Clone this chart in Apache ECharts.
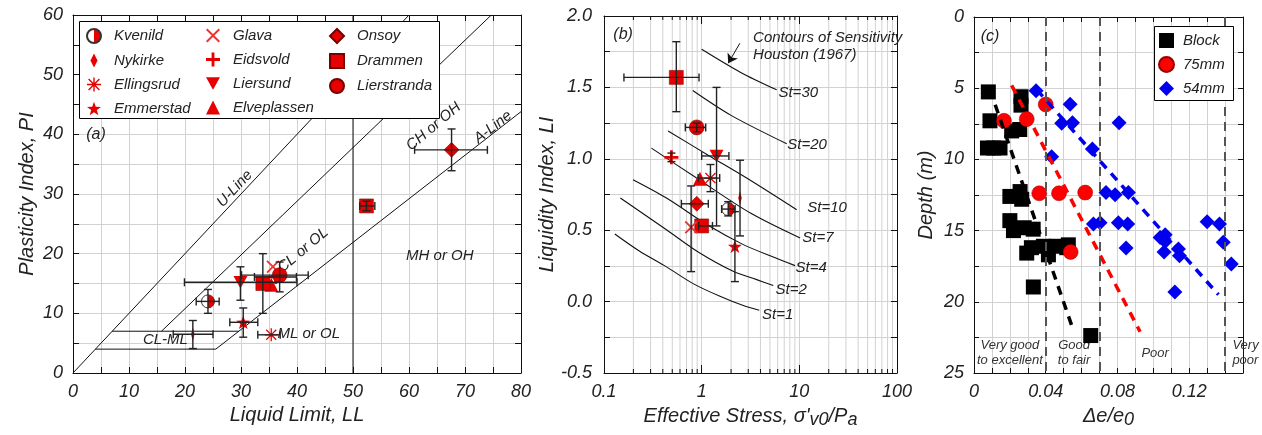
<!DOCTYPE html>
<html><head><meta charset="utf-8">
<script src="https://cdn.jsdelivr.net/npm/echarts@6/dist/echarts.min.js"></script>
<style>html,body{margin:0;padding:0;background:#fff}#c{width:1262px;height:435px}</style>
</head><body><div id="c"></div>
<script>
// ================= DATA =================
// Panel (a): [site, LL, PI, LLmin, LLmax, PImin, PImax]
const plasticityPoints = [
  ['Kvenild', 24.1, 12.0, 22.0, 26.1, 10.0, 14.0],
  ['Nykirke', 21.4, 6.5, 17.9, 25.0, 4.1, 8.8],
  ['Ellingsrud', 35.4, 6.4, 33.0, 37.0, null, null],
  ['Emmerstad', 30.4, 8.5, 28.0, 33.0, 6.0, 10.9],
  ['Glava', 35.7, 17.8, null, null, null, null],
  ['Eidsvold', 36.2, 16.1, 32.4, 39.9, null, null],
  ['Liersund', 29.9, 15.2, 19.9, 40.0, 12.2, 17.8],
  ['Elveplassen', 35.4, 14.8, null, null, null, null],
  ['Onsoy', 67.6, 37.4, 61.0, 74.0, 33.9, 40.9],
  ['Drammen', 33.9, 15.0, null, null, 10.0, 20.0],
  ['Drammen', 52.4, 28.0, 51.2, 53.9, 27.2, 28.8],
  ['Lierstranda', 36.9, 16.4, 30.1, 42.0, 13.6, 18.6]
];
// Plasticity chart reference lines [LL, PI]
const lineLeft = [[0, 0], [60, 60]];
const uLine = [[15.8, 7], [74.7, 60]];
const aLine = [[25.5, 4], [80, 43.8]];
const clmlTop = [[7, 7], [29.6, 7]];
const clmlBottom = [[4, 4], [25.5, 4]];
const llFifty = [[50, 0], [50, 60]];

// Panel (b): [site, stress, LI, stressMin, stressMax, LImin, LImax]
const liquidityPoints = [
  ['Drammen', 0.55, 1.57, 0.16, 0.94, 1.33, 1.82],
  ['Lierstranda', 0.89, 1.22, 0.68, 1.10, 1.19, 1.25],
  ['Eidsvold', 0.49, 1.01, null, null, 0.98, 1.04],
  ['Liersund', 1.42, 1.02, 1.00, 1.90, 0.53, 1.50],
  ['Elveplassen', 0.96, 0.86, null, null, null, null],
  ['Ellingsrud', 1.23, 0.865, 0.92, 1.53, 0.77, 0.96],
  ['Onsoy', 0.89, 0.685, 0.62, 1.17, null, null],
  ['Kvenild', 1.87, 0.648, 1.60, 2.20, 0.60, 0.70],
  ['Nykirke', 2.47, 0.725, null, null, 0.46, 0.99],
  ['Drammen', 1.0, 0.53, 0.93, 1.29, null, null],
  ['Glava', 0.78, 0.52, null, null, 0.21, 0.81],
  ['Emmerstad', 2.19, 0.387, null, null, 0.14, 0.63]
];
// Houston (1967) sensitivity contours [stress, LI]
const contourSt1 = [[0.129, 0.473], [0.232, 0.352], [0.436, 0.243], [0.818, 0.126], [1.54, 0.037], [2.67, -0.028], [3.89, -0.061]];
const contourSt2 = [[0.147, 0.725], [0.436, 0.503], [0.93, 0.345], [2.10, 0.212], [3.66, 0.154], [5.41, 0.112]];
const contourSt4 = [[0.198, 0.853], [0.436, 0.725], [1.21, 0.527], [2.67, 0.399], [5.41, 0.312], [9.03, 0.252]];
const contourSt7 = [[0.306, 1.075], [0.887, 0.865], [3.16, 0.62], [10.2, 0.445]];
const contourSt10 = [[0.453, 1.195], [1.2, 1.02], [2.89, 0.865], [9.4, 0.643]];
const contourSt20 = [[0.81, 1.478], [2.0, 1.304], [7.43, 1.105]];
const contourSt30 = [[1.0, 1.767], [2.51, 1.605], [5.86, 1.483]];
const stressMinorTicks = [0.2, 0.3, 0.4, 0.5, 0.6, 0.7, 0.8, 0.9, 2, 3, 4, 5, 6, 7, 8, 9, 20, 30, 40, 50, 60, 70, 80, 90];

// Panel (c): [de/e0, depth]
const blockPoints = [
  [0.008, 5.26], [0.0262, 5.6], [0.0262, 6.19], [0.0089, 7.29], [0.021, 8.0], [0.0255, 7.9],
  [0.0075, 9.2], [0.011, 9.2], [0.0145, 9.2], [0.020, 12.6], [0.0257, 12.26], [0.0266, 12.8],
  [0.020, 14.3], [0.022, 15.0], [0.028, 14.8], [0.033, 14.9],
  [0.0294, 16.58], [0.032, 16.2], [0.0387, 16.1], [0.0415, 16.7], [0.046, 16.1], [0.0517, 16.2], [0.0526, 16.0],
  [0.0331, 18.96], [0.0651, 22.37]
];
const tube75Points = [[0.0167, 7.29], [0.0294, 7.17], [0.040, 6.14], [0.0364, 12.38], [0.0474, 12.38], [0.062, 12.33], [0.0539, 16.5]];
const tube54Points = [
  [0.0346, 5.18], [0.0536, 6.12], [0.0489, 7.47], [0.0549, 7.43], [0.0809, 7.43], [0.0433, 9.81], [0.066, 9.27],
  [0.0736, 12.33], [0.0787, 12.49], [0.0861, 12.33], [0.0666, 14.53], [0.0703, 14.44], [0.0805, 14.44], [0.0857, 14.53],
  [0.0848, 16.23], [0.1038, 15.49], [0.1066, 15.3], [0.1066, 15.77], [0.106, 16.51], [0.114, 16.3], [0.1146, 16.77],
  [0.112, 19.31], [0.130, 14.37], [0.1369, 14.53], [0.139, 15.81], [0.1435, 17.35]
];
const blockTrend = [[0.0089, 5.1], [0.0554, 22.0]];
const tube75Trend = [[0.021, 4.8], [0.0926, 22.1]];
const tube54Trend = [[0.035, 5.1], [0.1363, 19.5]];
const qualityLimits = [0.04, 0.07, 0.14];

const siteColumns = [
  ['Kvenild', 'Nykirke', 'Ellingsrud', 'Emmerstad'],
  ['Glava', 'Eidsvold', 'Liersund', 'Elveplassen'],
  ['Onsoy', 'Drammen', 'Lierstranda']
];

// ================= STYLE =================
const FONT = '"Liberation Sans", Arial, sans-serif';
const INK = '#222';
const GRID = '#d2d2d2';
const RED = '#e60000';
const CLEAR = 'rgba(0,0,0,0)';
const T = (size, extra) => Object.assign({ fontFamily: FONT, fontStyle: 'italic', fontSize: size, color: INK }, extra || {});

const X_PATH = 'path://M2,0L10,8L18,0L20,2L12,10L20,18L18,20L10,12L2,20L0,18L8,10L0,2Z';
const PLUS_PATH = 'path://M8,0L12,0L12,8L20,8L20,12L12,12L12,20L8,20L8,12L0,12L0,8L8,8Z';
const AST_PATH = 'path://M9,0L11,0L11,9L20,9L20,11L11,11L11,20L9,20L9,11L0,11L0,9L9,9Z M3,1.6L10,8.6L17,1.6L18.4,3L11.4,10L18.4,17L17,18.4L10,11.4L3,18.4L1.6,17L8.6,10L1.6,3Z';
const STAR_PATH = 'path://M10,0L12.35,6.76L19.51,6.91L13.8,11.24L15.88,18.09L10,14L4.12,18.09L6.2,11.24L0.49,6.91L7.65,6.76Z';
const DOWN_TRI = 'path://M0,0L20,0L10,18Z';
const THIN_DIAMOND = 'path://M5,0L10,10L5,20L0,10Z';
const halfFill = { type: 'linear', x: 0, y: 0, x2: 1, y2: 0, colorStops: [
  { offset: 0, color: '#fff' }, { offset: 0.5, color: '#fff' }, { offset: 0.5, color: RED }, { offset: 1, color: RED }] };

const siteStyle = {
  Kvenild: { symbol: 'circle', size: 13, color: halfFill, border: '#333', bw: 1 },
  Nykirke: { symbol: THIN_DIAMOND, size: [7, 14], color: RED },
  Ellingsrud: { symbol: AST_PATH, size: 13, color: RED },
  Emmerstad: { symbol: STAR_PATH, size: 14, color: RED },
  Glava: { symbol: X_PATH, size: 13, color: '#ee3333' },
  Eidsvold: { symbol: PLUS_PATH, size: 14, color: RED },
  Liersund: { symbol: DOWN_TRI, size: 14, color: RED },
  Elveplassen: { symbol: 'triangle', size: 14, color: RED },
  Onsoy: { symbol: 'diamond', size: 15, color: RED, border: '#700', bw: 0.5 },
  Drammen: { symbol: 'rect', size: 14, color: RED, border: '#700', bw: 0.5 },
  Lierstranda: { symbol: 'circle', size: 15, color: RED, border: '#700', bw: 0.5 }
};

// ================= HELPERS =================
function axisBase(extra) {
  return Object.assign({
    type: 'value',
    axisLine: { show: true, onZero: false, lineStyle: { color: '#111', width: 1 } },
    axisTick: { show: true, inside: true, length: 6, lineStyle: { color: '#111' } },
    splitLine: { show: false },
    axisLabel: { show: false }
  }, extra);
}
function labelStyle(formatter, margin) {
  return Object.assign({ show: true, formatter: formatter, margin: margin }, T(18));
}

function errorBarRender(params, api) {
  const x = api.value(1), y = api.value(2);
  const xl = api.value(3), xh = api.value(4), yl = api.value(5), yh = api.value(6);
  const st = { stroke: INK, lineWidth: 1.4 };
  const cap = 4;
  const ch = [];
  const seg = (x1, y1, x2, y2) => ch.push({ type: 'line', shape: { x1, y1, x2, y2 }, style: st });
  if (isFinite(xl) && isFinite(xh)) {
    const p1 = api.coord([xl, y]), p2 = api.coord([xh, y]);
    seg(p1[0], p1[1], p2[0], p2[1]);
    seg(p1[0], p1[1] - cap, p1[0], p1[1] + cap);
    seg(p2[0], p2[1] - cap, p2[0], p2[1] + cap);
  }
  if (isFinite(yl) && isFinite(yh)) {
    const p1 = api.coord([x, yl]), p2 = api.coord([x, yh]);
    seg(p1[0], p1[1], p2[0], p2[1]);
    seg(p1[0] - cap, p1[1], p1[0] + cap, p1[1]);
    seg(p2[0] - cap, p2[1], p2[0] + cap, p2[1]);
  }
  return { type: 'group', children: ch };
}

function refLine(data, xi, yi) {
  return { type: 'line', xAxisIndex: xi, yAxisIndex: yi, data: data, symbol: 'none', silent: true, z: 1,
    lineStyle: { color: '#111', width: 1 } };
}
function contour(data) {
  return { type: 'line', xAxisIndex: 2, yAxisIndex: 2, data: data, symbol: 'none', silent: true, z: 1, smooth: 0.3,
    lineStyle: { color: '#111', width: 1.1 } };
}
function annotate(xi, yi, items, size, color) {
  return { type: 'scatter', xAxisIndex: xi, yAxisIndex: yi, silent: true, z: 2, symbolSize: 1,
    itemStyle: { color: CLEAR, opacity: 1 },
    label: Object.assign({ show: true, position: 'inside', formatter: '{b}', lineHeight: 15 }, T(size || 15, { color: color || INK })),
    data: items };
}
function siteSeries(rows, xi, yi) {
  const names = [...new Set(rows.map(r => r[0]))];
  return names.map(n => {
    const s = siteStyle[n];
    return {
      type: 'scatter', name: n, xAxisIndex: xi, yAxisIndex: yi, z: 3,
      symbol: s.symbol, symbolSize: s.size, symbolKeepAspect: true,
      itemStyle: { color: s.color, borderColor: s.border || CLEAR, borderWidth: s.bw || 0, opacity: 1 },
      data: rows.filter(r => r[0] === n).map(r => [r[1], r[2]])
    };
  });
}

// ================= OPTION =================
const series = [];
// ---- panel (a)
[lineLeft, uLine, aLine, clmlTop, clmlBottom, llFifty].forEach(d => series.push(refLine(d, 0, 0)));
series.push(annotate(0, 0, [
  { name: 'U-Line', value: [28.9, 30.9], label: { rotate: 47 } },
  { name: 'CH or OH', value: [64.4, 41.3], label: { rotate: 40 } },
  { name: 'A-Line', value: [75.0, 41.2], label: { rotate: 38 } },
  { name: 'CL or OL', value: [41.1, 20.6], label: { rotate: 40 } },
  { name: 'MH or OH', value: [65.5, 19.7] },
  { name: 'ML or OL', value: [42.1, 6.5] },
  { name: 'CL-ML', value: [16.5, 5.5] },
  { name: '(a)', value: [4.1, 39.9], label: { fontSize: 16 } }
]));
siteSeries(plasticityPoints, 0, 0).forEach(s => series.push(s));
series.push({ type: 'custom', name: 'errA', xAxisIndex: 0, yAxisIndex: 0, z: 4, silent: true,
  renderItem: errorBarRender, encode: { x: 1, y: 2 }, data: plasticityPoints });

// ---- panel (b)
series.push({ type: 'custom', name: 'minorGrid', xAxisIndex: 2, yAxisIndex: 2, z: 0, silent: true,
  encode: { x: 0, y: 1 }, data: stressMinorTicks.map(v => [v, 0]),
  renderItem: function (params, api) {
    const v = api.value(0);
    const top = api.coord([v, 2.0]), bot = api.coord([v, -0.5]);
    return { type: 'group', children: [
      { type: 'line', shape: { x1: top[0], y1: top[1], x2: bot[0], y2: bot[1] }, style: { stroke: GRID, lineWidth: 1 } },
      { type: 'line', shape: { x1: bot[0], y1: bot[1], x2: bot[0], y2: bot[1] - 4 }, style: { stroke: '#111', lineWidth: 1 } },
      { type: 'line', shape: { x1: top[0], y1: top[1], x2: top[0], y2: top[1] + 4 }, style: { stroke: '#111', lineWidth: 1 } }
    ] };
  } });
[contourSt1, contourSt2, contourSt4, contourSt7, contourSt10, contourSt20].forEach(d => series.push(contour(d)));
const st30 = contour(contourSt30);
st30.markLine = { silent: true, symbol: ['none', 'arrow'], symbolSize: 9, label: { show: false },
  lineStyle: { color: '#111', width: 1, type: 'solid' },
  data: [[{ coord: [2.46, 1.809] }, { coord: [1.87, 1.669] }]] };
series.push(st30);
const leftAnchor = { position: 'right', distance: 0 };
series.push(annotate(2, 2, [
  { name: '(b)', value: [0.157, 1.867], label: { fontSize: 16 } },
  { name: 'St=30', value: [6.04, 1.46], label: leftAnchor },
  { name: 'St=20', value: [7.43, 1.098], label: leftAnchor },
  { name: 'St=10', value: [11.9, 0.657], label: leftAnchor },
  { name: 'St=7', value: [10.6, 0.448], label: leftAnchor },
  { name: 'St=4', value: [9.04, 0.238], label: leftAnchor },
  { name: 'St=2', value: [5.63, 0.084], label: leftAnchor },
  { name: 'St=1', value: [4.11, -0.091], label: leftAnchor },
  { name: 'Contours of Sensitivity', value: [3.32, 1.846], label: leftAnchor },
  { name: 'Houston (1967)', value: [3.32, 1.727], label: leftAnchor }
]));
siteSeries(liquidityPoints, 2, 2).forEach(s => series.push(s));
series.push({ type: 'custom', name: 'errB', xAxisIndex: 2, yAxisIndex: 2, z: 4, silent: true,
  renderItem: errorBarRender, encode: { x: 1, y: 2 }, data: liquidityPoints });

// ---- panel (c)
series.push({ type: 'scatter', name: 'Block', xAxisIndex: 4, yAxisIndex: 4, z: 3, symbol: 'rect', symbolSize: 15,
  itemStyle: { color: '#000', opacity: 1 }, data: blockPoints });
series.push({ type: 'scatter', name: '75mm', xAxisIndex: 4, yAxisIndex: 4, z: 3, symbol: 'circle', symbolSize: 15,
  itemStyle: { color: '#ff0000', borderColor: '#900', borderWidth: 0.5, opacity: 1 }, data: tube75Points });
series.push({ type: 'scatter', name: '54mm', xAxisIndex: 4, yAxisIndex: 4, z: 3, symbol: 'diamond', symbolSize: 15,
  itemStyle: { color: '#0000ee', opacity: 1 }, data: tube54Points });
const trend = (d, c) => ({ type: 'line', xAxisIndex: 4, yAxisIndex: 4, data: d, symbol: 'none', silent: true, z: 4,
  lineStyle: { color: c, width: 3.5, type: [9, 7] } });
const tb = trend(blockTrend, '#000');
tb.markLine = { silent: true, symbol: 'none', label: { show: false },
  lineStyle: { color: '#555', width: 2, type: [9, 6] }, data: qualityLimits.map(v => ({ xAxis: v })) };
series.push(tb, trend(tube75Trend, '#ff0000'), trend(tube54Trend, '#0000ee'));
series.push(annotate(4, 4, [
  { name: '(c)', value: [0.0089, 1.35], label: { fontSize: 16, color: INK } },
  { name: 'Very good\nto excellent', value: [0.020, 23.6] },
  { name: 'Good\nto fair', value: [0.0558, 23.6] },
  { name: 'Poor', value: [0.101, 23.6] },
  { name: 'Very\npoor', value: [0.1438, 23.6], label: { position: 'right', distance: 0, align: 'left' } }
], 13, '#333'));

const richName = {
  m: T(20, { lineHeight: 26, verticalAlign: 'middle' }),
  s: T(18, { lineHeight: 14, verticalAlign: 'bottom' })
};

const option = {
  animation: false,
  backgroundColor: '#fff',
  textStyle: { fontFamily: FONT },
  grid: [
    { left: 73, top: 15, width: 448, height: 358 },
    { left: 604, top: 16, width: 293, height: 357 },
    { left: 974, top: 17, width: 269, height: 356 }
  ],
  xAxis: [
    axisBase({ gridIndex: 0, min: 0, max: 80, interval: 5, position: 'bottom',
      splitLine: { show: true, lineStyle: { color: GRID } },
      axisLabel: labelStyle(v => (v % 10 === 0 ? String(v) : ''), 10),
      name: 'Liquid Limit, LL', nameLocation: 'middle', nameGap: 31, nameTextStyle: T(20) }),
    axisBase({ gridIndex: 0, min: 0, max: 80, interval: 5, position: 'top' }),
    axisBase({ gridIndex: 1, type: 'log', logBase: 10, min: 0.1, max: 100, position: 'bottom',
      axisTick: { show: true, inside: true, length: 8, lineStyle: { color: '#111' } },
      splitLine: { show: true, lineStyle: { color: GRID } },
      axisLabel: labelStyle(v => String(+Number(v).toPrecision(2)), 10),
      name: "{m|Effective Stress, σ'}{s|v0}{m|/P}{s|a}", nameLocation: 'middle', nameGap: 30,
      nameTextStyle: T(20, { rich: richName }) }),
    axisBase({ gridIndex: 1, type: 'log', logBase: 10, min: 0.1, max: 100, position: 'top',
      axisTick: { show: true, inside: true, length: 8, lineStyle: { color: '#111' } } }),
    axisBase({ gridIndex: 2, min: 0, max: 0.15, interval: 0.01, position: 'bottom',
      axisTick: { show: true, inside: true, length: 5, lineStyle: { color: '#111' } },
      splitLine: { show: true, lineStyle: { color: GRID } },
      axisLabel: labelStyle(v => {
        const k = Math.round(v * 100);
        if (k % 4 !== 0) return '';
        return k === 0 ? '0' : (k / 100).toFixed(2);
      }, 10),
      name: '{m|Δe/e}{s|0}', nameLocation: 'middle', nameGap: 30, nameTextStyle: T(20, { rich: richName }) }),
    axisBase({ gridIndex: 2, min: 0, max: 0.15, interval: 0.01, position: 'top',
      axisTick: { show: true, inside: true, length: 5, lineStyle: { color: '#111' } } })
  ],
  yAxis: [
    axisBase({ gridIndex: 0, min: 0, max: 60, interval: 5, position: 'left',
      splitLine: { show: true, lineStyle: { color: GRID } },
      axisLabel: labelStyle(v => (v % 10 === 0 ? String(v) : ''), 10),
      name: 'Plasticity Index, PI', nameLocation: 'middle', nameGap: 36, nameTextStyle: T(20) }),
    axisBase({ gridIndex: 0, min: 0, max: 60, interval: 5, position: 'right' }),
    axisBase({ gridIndex: 1, min: -0.5, max: 2.0, interval: 0.25, position: 'left',
      splitLine: { show: true, lineStyle: { color: GRID } },
      axisLabel: labelStyle(v => (Math.abs(v * 2 - Math.round(v * 2)) < 1e-6 ? v.toFixed(1) : ''), 12),
      name: 'Liquidity Index, LI', nameLocation: 'middle', nameGap: 42, nameTextStyle: T(20) }),
    axisBase({ gridIndex: 1, min: -0.5, max: 2.0, interval: 0.25, position: 'right' }),
    axisBase({ gridIndex: 2, min: 0, max: 25, interval: 2.5, inverse: true, position: 'left',
      axisTick: { show: true, inside: true, length: 5, lineStyle: { color: '#111' } },
      splitLine: { show: true, lineStyle: { color: GRID } },
      axisLabel: labelStyle(v => (v % 5 === 0 ? String(v) : ''), 10),
      name: 'Depth (m)', nameLocation: 'middle', nameGap: 38, nameTextStyle: T(20) }),
    axisBase({ gridIndex: 2, min: 0, max: 25, interval: 2.5, inverse: true, position: 'right',
      axisTick: { show: true, inside: true, length: 5, lineStyle: { color: '#111' } } })
  ],
  legend: [
    ...siteColumns.map((col, i) => ({
      data: col, orient: 'vertical', left: [86, 206, 329][i], top: 28, padding: 0,
      itemWidth: 14, itemHeight: 14, itemGap: 9, selectedMode: false, z: 20,
      textStyle: T(15, { padding: [0, 0, 0, 8] }) })),
    { data: ['Block', '75mm', '54mm'], orient: 'vertical', left: 1158, top: 33, padding: 0,
      itemWidth: 15, itemHeight: 15, itemGap: 8, selectedMode: false, z: 20,
      textStyle: T(15, { padding: [0, 0, 0, 4] }) }
  ],
  graphic: [
    { type: 'rect', z: 10, left: 79, top: 21, shape: { width: 360, height: 97 },
      style: { fill: '#fff', stroke: '#000', lineWidth: 1 } },
    { type: 'rect', z: 10, left: 1154, top: 26, shape: { width: 79, height: 74 },
      style: { fill: '#fff', stroke: '#000', lineWidth: 1 } }
  ],
  series: series
};

const chart = echarts.init(document.getElementById('c'));
chart.setOption(option);
</script>
</body></html>
